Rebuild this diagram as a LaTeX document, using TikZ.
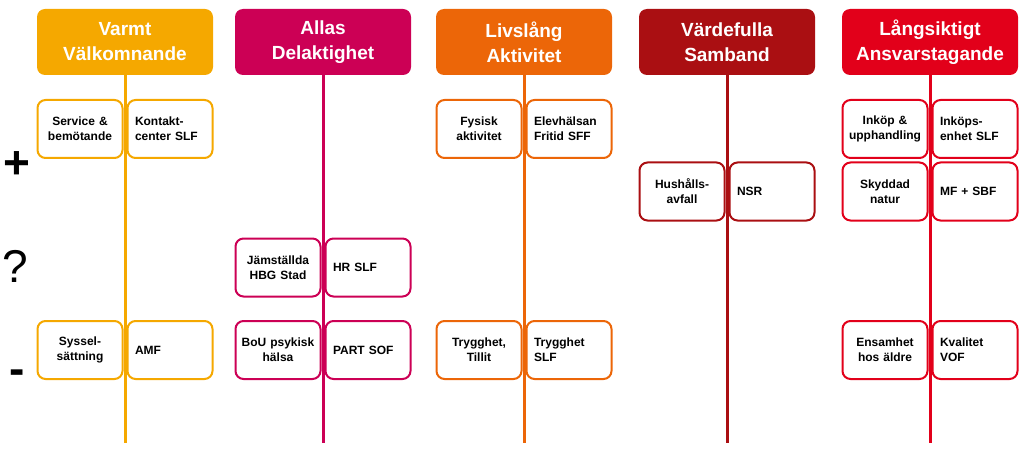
\documentclass[tikz,border=0pt]{standalone}
\usepackage{fontspec}
\setmainfont{Liberation Sans}
\definecolor{varmt}{HTML}{F5A800}
\definecolor{allas}{HTML}{CC0055}
\definecolor{livslang}{HTML}{EC6608}
\definecolor{vardefulla}{HTML}{AA0F12}
\definecolor{langsiktigt}{HTML}{E2001A}
\begin{document}
\begin{tikzpicture}[
  x=1pt,y=-1pt,
  head/.style={fill=#1,rounded corners=8pt,minimum width=176pt,minimum height=66pt,align=center,text=white,font=\fontsize{19}{25}\selectfont\bfseries},
  axis/.style={draw=#1,line width=3pt},
  leftbox/.style={draw=#1,fill=white,line width=2pt,rounded corners=8pt,minimum width=85pt,minimum height=58pt,text width=78pt,align=center,font=\fontsize{12}{15}\selectfont\bfseries},
  rightbox/.style={leftbox=#1,text width=70pt,align=left},
  sign/.style={inner sep=0pt,font=\fontsize{46}{46}\selectfont}
]
  \useasboundingbox (0,0) rectangle (1024,449);

  \node[head=varmt]       (H1) at (125,42) {Varmt\\Välkomnande};
  \node[head=allas]       (H2) at (323,42) {Allas\\Delaktighet};
  \node[head=livslang]    (H3) at (524,42) {Livslång\\Aktivitet};
  \node[head=vardefulla]  (H4) at (727,42) {Värdefulla\\Samband};
  \node[head=langsiktigt] (H5) at (930,42) {Långsiktigt\\Ansvarstagande};

  \coordinate (E1) at (125,443);
  \coordinate (E2) at (323,443);
  \coordinate (E3) at (524,443);
  \coordinate (E4) at (727,443);
  \coordinate (E5) at (930,443);

  \draw[axis=varmt]       (H1) -- (E1);
  \draw[axis=allas]       (H2) -- (E2);
  \draw[axis=livslang]    (H3) -- (E3);
  \draw[axis=vardefulla]  (H4) -- (E4);
  \draw[axis=langsiktigt] (H5) -- (E5);

  \node[sign,font=\fontsize{46}{46}\selectfont\bfseries] (plus)  at (17,165) {+};
  \node[sign] (quest) at (15,266) {?};
  \node[sign,font=\fontsize{46}{46}\selectfont\bfseries] (minus) at (17,377) {-};

  \node[leftbox=varmt]   (service)  at (80,129)  {Service \&\\bemötande};
  \node[rightbox=varmt]  (kontakt)  at (170,129) {Kontakt-\\center SLF};
  \node[leftbox=varmt]   (syssel)   at (80,350)  {Syssel-\\sättning};
  \node[rightbox=varmt]  (amf)      at (170,350) {AMF};

  \node[leftbox=allas]   (jamst)    at (278,267.5) {Jämställda\\HBG Stad};
  \node[rightbox=allas]  (hrslf)    at (368,267.5) {HR SLF};
  \node[leftbox=allas]   (bou)      at (278,350)   {BoU psykisk\\hälsa};
  \node[rightbox=allas]  (part)     at (368,350)   {PART SOF};

  \node[leftbox=livslang]  (fysisk)  at (479,129) {Fysisk\\aktivitet};
  \node[rightbox=livslang] (elevh)   at (569,129) {Elevhälsan\\Fritid SFF};
  \node[leftbox=livslang]  (tillit)  at (479,350) {Trygghet,\\Tillit};
  \node[rightbox=livslang] (trygg)   at (569,350) {Trygghet\\SLF};

  \node[leftbox=vardefulla]  (hushall) at (682,191.5) {Hushålls-\\avfall};
  \node[rightbox=vardefulla] (nsr)     at (772,191.5) {NSR};

  \node[leftbox=langsiktigt]  (inkop)   at (885,129)   {Inköp \&\\upphandling};
  \node[rightbox=langsiktigt] (inkenh)  at (975,129)   {Inköps-\\enhet SLF};
  \node[leftbox=langsiktigt]  (skyddad) at (885,191.5) {Skyddad\\natur};
  \node[rightbox=langsiktigt] (mfsbf)   at (975,191.5) {MF + SBF};
  \node[leftbox=langsiktigt]  (ensam)   at (885,350)   {Ensamhet\\hos äldre};
  \node[rightbox=langsiktigt] (kval)    at (975,350)   {Kvalitet\\VOF};
\end{tikzpicture}
\end{document}
